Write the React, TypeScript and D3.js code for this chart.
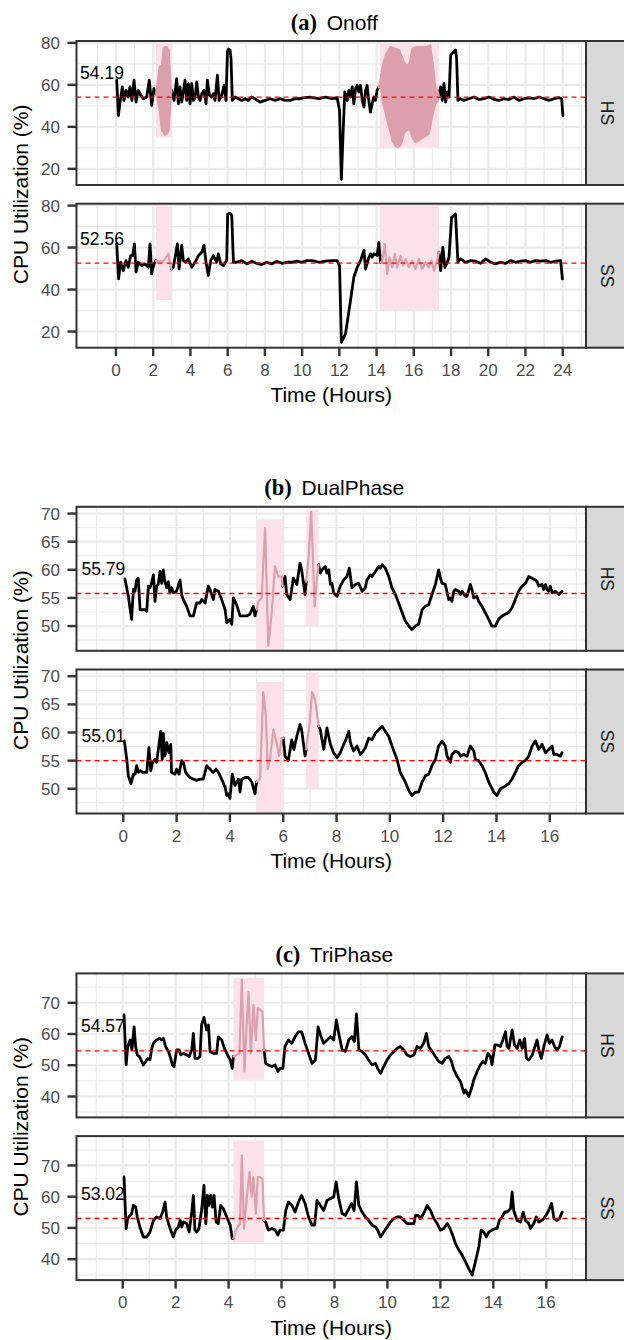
import React from 'react';
import * as d3 from 'd3';

type P = [number, number];
type Band = [number, number, number]; // time, low, high of a dense oscillation
type Region = [number, number, number, number]; // t0, t1, v0, v1

// ---------- (a) Onoff ----------
const onoffXTicks = [0, 2, 4, 6, 8, 10, 12, 14, 16, 18, 20, 22, 24];
const onoffXMinor = [-1, 1, 3, 5, 7, 9, 11, 13, 15, 17, 19, 21, 23, 25];
const onoffYTicks = [20, 40, 60, 80];
const onoffYMinor = [30, 50, 70];
const onoffRegions: Region[] = [[2.15, 3.0, 35, 79.8], [14.18, 17.35, 30.2, 79.8]];
const onoffMeans = [54.19, 52.56];

const onoffHS: P[] = [
  [0.04,62.2],[0.13,45.4],[0.22,51.8],[0.34,59.0],[0.43,52.6],[0.54,57.4],[0.66,54.2],[0.75,59.0],[0.86,52.6],[0.97,62.2],[1.08,51.8],[1.20,57.4],[1.33,55.0],[1.47,53.4],[1.65,54.2],[1.79,62.2],[1.92,50.2],[2.04,58.2],[2.15,55.8],
  [2.99,57.4],[3.12,52.6],[3.26,63.0],[3.35,51.0],[3.44,59.0],[3.53,51.8],[3.62,56.6],[3.71,62.2],[3.80,52.6],[3.89,60.6],[3.98,51.0],[4.07,60.6],[4.16,52.6],[4.25,54.2],[4.34,61.4],[4.43,54.2],[4.52,52.6],[4.61,55.8],[4.73,57.4],[4.84,51.0],[4.91,62.2],[5.02,55.0],[5.14,54.2],[5.23,55.8],[5.32,52.6],[5.45,64.6],[5.54,52.6],[5.68,55.0],[5.81,59.8],[5.91,52.6],[5.99,75.8],[6.04,77.0],[6.13,76.6],[6.18,72.6],[6.25,52.6],
  [6.40,54.2],[6.58,53.4],[6.76,52.6],[6.94,53.4],[7.11,52.6],[7.29,54.2],[7.47,53.4],[7.74,51.8],[8.01,52.6],[8.28,53.4],[8.55,52.6],[8.82,53.4],[9.09,52.6],[9.35,52.6],[9.62,53.4],[9.89,53.4],[10.16,53.9],[10.43,54.2],
  [10.90,53.4],[11.25,54.2],[11.61,53.4],[11.88,53.9],[12.01,47.8],[12.11,15.0],[12.20,36.6],[12.29,56.6],[12.42,52.6],[12.51,57.4],[12.60,54.2],[12.69,59.0],[12.78,51.0],[12.87,58.2],[12.96,59.8],[13.05,56.6],[13.14,59.8],[13.23,52.6],[13.32,49.4],[13.41,57.4],[13.49,59.8],[13.58,52.6],[13.67,47.0],[13.76,51.0],[13.85,54.2],[13.94,52.6],[14.03,57.4],[14.12,59.0],
  [17.35,55.0],[17.44,59.0],[17.53,52.6],[17.62,60.6],[17.71,51.8],[17.80,56.6],[17.89,54.2],[17.98,74.2],[18.06,75.0],[18.15,75.8],[18.24,76.6],[18.30,72.6],[18.37,52.6],[18.51,53.4],[18.69,52.6],[18.96,53.4],[19.23,54.2],[19.50,53.0],[19.77,53.4],[20.04,54.2],[20.30,53.1],[20.57,52.6],[20.84,53.4],[21.11,53.0],[21.38,54.2],[21.65,52.6],[21.92,53.4],[22.19,53.8],[22.46,53.4],[22.72,54.2],[22.99,53.4],[23.26,52.6],[23.53,53.4],[23.80,53.9],[23.94,53.4],[24.01,45.4],
];
// envelope of the densely oscillating highlighted stretches in Onoff / HS
const onoffHSBand1: Band[] = [
  [2.15,55.0,57.0],[2.19,54.2,59.0],[2.33,47.8,68.6],[2.46,38.2,69.4],[2.54,37.4,77.4],[2.63,36.0,78.2],[2.72,36.6,78.2],[2.85,38.2,76.6],[2.94,52.6,60.6],[2.99,57.0,57.8],
];
const onoffHSBand2: Band[] = [
  [14.12,58.6,59.4],[14.21,59.0,63.0],[14.30,52.6,68.6],[14.48,46.2,74.2],[14.66,39.8,77.0],[14.75,37.0,78.2],[14.84,33.4,78.0],[15.02,30.6,77.4],[15.11,30.2,77.0],[15.23,30.6,76.6],[15.29,31.0,75.0],[15.41,34.0,72.6],[15.47,36.6,71.0],[15.59,38.0,69.4],[15.74,39.0,70.0],[15.80,38.0,72.0],[15.91,35.0,77.4],[16.09,32.6,78.0],[16.18,33.0,78.2],[16.27,33.4,78.2],[16.45,34.5,78.2],[16.54,35.0,78.2],[16.72,36.0,78.2],[16.81,36.6,78.6],[16.90,40.0,79.0],[16.99,44.6,72.0],[17.03,46.0,70.2],[17.17,51.0,59.0],[17.31,52.6,56.6],[17.35,54.6,55.4],
];
const onoffSS: P[] = [
  [0.04,61.7],[0.14,45.1],[0.25,53.0],[0.39,49.0],[0.54,53.8],[0.66,50.6],[0.79,56.2],[0.90,56.2],[0.99,61.7],[1.08,48.3],[1.20,53.0],[1.38,51.4],[1.56,52.2],[1.74,50.6],[1.83,61.7],[1.92,47.5],[2.04,52.2],[2.15,53.8],
  [2.19,53.0],[2.37,53.8],[2.49,53.0],[2.63,54.6],[2.81,57.0],[2.94,50.6],[2.99,49.8],
  [3.08,50.6],[3.30,61.7],[3.39,49.8],[3.53,61.0],[3.62,53.8],[3.76,53.0],[3.89,54.6],[4.07,50.6],[4.25,53.0],[4.43,56.2],[4.61,57.8],[4.73,61.0],[4.84,53.0],[4.96,46.7],[5.09,53.8],[5.23,56.2],[5.41,53.0],[5.50,57.0],[5.63,52.2],[5.77,51.4],[5.95,53.8],[6.00,76.0],[6.13,76.3],[6.22,75.2],[6.31,53.0],
  [6.49,53.0],[6.76,53.8],[7.03,52.2],[7.29,53.5],[7.56,52.5],[7.83,51.9],[8.10,53.0],[8.37,52.2],[8.64,53.5],[8.91,52.5],[9.18,53.0],[9.44,53.0],[9.71,53.5],[9.98,53.0],[10.25,53.8],
  [10.54,53.8],[10.90,53.0],[11.25,53.5],[11.61,53.8],[11.88,53.8],[12.01,51.4],[12.11,14.9],[12.33,18.9],[12.60,34.8],[12.78,45.9],[12.96,50.6],[13.14,53.8],[13.32,58.6],[13.41,49.8],[13.59,55.4],[13.68,57.0],[13.76,55.4],[13.85,57.0],[14.03,56.2],[14.12,62.5],
  [14.21,53.0],[14.30,53.0],[14.44,61.7],[14.57,47.5],[14.70,55.4],[14.84,50.6],[14.98,57.0],[15.11,50.6],[15.29,56.2],[15.41,51.4],[15.56,54.6],[15.74,50.6],[15.91,53.8],[16.09,49.8],[16.27,54.6],[16.45,49.8],[16.63,53.0],[16.81,50.6],[16.95,53.8],[17.08,49.0],[17.26,53.8],[17.35,57.8],
  [17.44,49.0],[17.56,60.2],[17.67,50.6],[17.80,53.0],[17.89,55.4],[18.03,74.4],[18.15,75.2],[18.24,76.0],[18.37,53.0],[18.51,54.6],[18.78,53.0],[19.05,53.8],[19.32,53.5],[19.59,52.5],[19.86,54.6],[20.13,53.0],[20.39,52.2],[20.66,53.0],[20.93,52.5],[21.20,53.8],[21.47,53.0],[21.73,53.5],[22.00,53.8],[22.27,53.0],[22.54,53.8],[22.81,53.5],[23.08,53.8],[23.35,53.0],[23.62,53.5],[23.89,53.8],[23.98,45.1],
];

// ---------- (b) DualPhase ----------
const dualXTicks = [0, 2, 4, 6, 8, 10, 12, 14, 16];
const dualXMinor = [-1, 1, 3, 5, 7, 9, 11, 13, 15, 17];
const dualYTicks = [50, 55, 60, 65, 70];
const dualYMinor = [47.5, 52.5, 57.5, 62.5, 67.5];
const dualRegions: Region[] = [[5.0, 5.98, 45.0, 69.0], [6.86, 7.33, 50.0, 70.7]];
const dualMeans = [55.79, 55.01];

const dualHS: P[] = [
  [0.06,58.4],[0.19,55.3],[0.31,51.2],[0.38,56.5],[0.44,56.2],[0.50,58.2],[0.56,58.5],[0.63,52.9],[0.69,52.9],[0.81,52.9],[0.88,52.6],[0.94,57.1],[1.00,56.8],[1.06,57.6],[1.13,59.1],[1.19,54.4],[1.25,57.1],[1.31,57.4],[1.38,59.7],[1.44,57.6],[1.50,60.0],[1.56,57.9],[1.63,56.8],[1.69,57.9],[1.75,55.9],[1.81,56.8],[1.88,55.9],[2.00,56.2],[2.13,58.2],[2.19,55.6],[2.25,54.7],[2.38,53.5],[2.50,51.8],[2.63,51.8],[2.75,54.1],[2.88,54.1],[2.94,54.7],[3.07,54.1],[3.19,57.1],[3.25,56.5],[3.38,54.7],[3.44,56.5],[3.57,56.2],[3.69,54.7],[3.82,52.9],[3.88,50.6],[4.00,51.2],[4.07,50.3],[4.13,55.0],[4.25,53.8],[4.38,51.8],[4.50,51.8],[4.63,51.8],[4.75,52.1],[4.88,53.5],[4.94,51.8],
  [5.00,52.9],[5.07,54.4],[5.19,55.0],[5.32,67.4],[5.44,46.5],[5.57,52.4],[5.69,60.6],[5.82,58.8],[5.94,58.8],[5.98,57.1],
  [6.00,57.6],[6.07,58.8],[6.13,55.6],[6.26,54.7],[6.38,58.5],[6.51,57.4],[6.63,61.2],[6.69,60.0],[6.82,55.6],
  [6.86,57.9],[6.95,62.0],[7.05,70.3],[7.18,53.5],[7.27,58.8],[7.33,60.9],
  [7.39,59.4],[7.46,60.0],[7.58,60.6],[7.64,59.4],[7.71,60.0],[7.77,57.4],[7.83,57.6],[7.89,55.9],[8.02,55.3],[8.14,57.1],[8.27,58.2],[8.39,58.8],[8.48,60.3],[8.58,56.8],[8.71,57.4],[8.83,57.6],[8.96,56.2],[9.08,56.8],[9.14,58.2],[9.27,59.1],[9.33,58.8],[9.46,59.7],[9.58,60.6],[9.64,60.3],[9.71,60.9],[9.83,60.3],[9.96,58.8],[10.08,56.8],[10.21,55.6],[10.33,54.1],[10.46,52.4],[10.58,50.9],[10.71,50.0],[10.83,49.4],[10.96,50.0],[11.08,50.3],[11.21,52.9],[11.33,53.5],[11.46,53.8],[11.58,55.6],[11.71,57.4],[11.83,60.0],[11.90,58.5],[11.96,57.6],[12.08,57.4],[12.21,54.7],[12.27,55.0],[12.33,54.4],[12.40,56.2],[12.46,56.5],[12.58,56.2],[12.65,55.6],[12.71,56.2],[12.83,55.3],[12.90,55.3],[13.02,57.4],[13.08,56.5],[13.15,55.0],[13.27,55.3],[13.33,54.4],[13.46,53.5],[13.58,52.4],[13.71,51.2],[13.83,50.0],[13.96,50.0],[14.08,51.2],[14.21,51.8],[14.33,52.1],[14.46,52.4],[14.58,53.2],[14.71,54.7],[14.83,56.2],[14.96,57.1],[15.09,57.6],[15.21,58.8],[15.34,58.5],[15.46,58.2],[15.52,57.9],[15.59,57.1],[15.71,57.4],[15.77,56.5],[15.84,57.4],[15.90,56.5],[15.96,56.2],[16.02,57.1],[16.09,55.9],[16.21,56.2],[16.34,55.6],[16.46,56.2],
];
const dualSS: P[] = [
  [0.04,58.5],[0.13,55.2],[0.19,52.3],[0.29,50.9],[0.38,52.6],[0.44,52.6],[0.50,54.1],[0.56,52.9],[0.63,53.2],[0.75,52.9],[0.88,52.9],[0.96,57.3],[1.03,53.2],[1.10,54.7],[1.19,55.2],[1.25,54.7],[1.34,57.9],[1.40,60.2],[1.46,55.2],[1.50,59.9],[1.56,55.8],[1.63,58.2],[1.71,56.4],[1.78,57.9],[1.81,52.9],[1.94,52.6],[2.00,53.5],[2.09,52.6],[2.19,55.0],[2.25,54.7],[2.34,52.9],[2.44,52.3],[2.50,52.0],[2.63,51.7],[2.75,51.5],[2.88,51.7],[3.00,51.7],[3.13,54.1],[3.25,53.5],[3.38,52.9],[3.48,53.5],[3.57,52.9],[3.69,51.7],[3.82,50.3],[3.88,48.8],[3.94,49.1],[4.00,48.3],[4.09,52.6],[4.19,50.6],[4.32,51.7],[4.38,49.4],[4.44,51.7],[4.57,52.0],[4.69,52.0],[4.82,51.2],[4.94,49.1],
  [5.00,51.2],[5.13,51.7],[5.25,67.2],[5.35,62.8],[5.42,53.5],[5.50,55.2],[5.63,60.5],[5.75,58.2],[5.85,55.8],[5.94,59.0],
  [6.00,59.0],[6.07,55.8],[6.19,55.0],[6.32,58.7],[6.40,57.0],[6.51,59.3],[6.63,61.4],[6.69,60.5],[6.82,55.8],
  [6.86,57.0],[7.00,62.0],[7.08,67.2],[7.20,65.7],[7.33,61.1],
  [7.39,60.5],[7.52,57.0],[7.64,60.8],[7.77,57.9],[7.89,56.4],[8.02,55.5],[8.14,56.4],[8.27,57.9],[8.33,58.5],[8.46,60.2],[8.52,58.2],[8.64,56.7],[8.77,57.6],[8.89,56.1],[8.96,56.4],[9.08,57.3],[9.21,59.0],[9.33,58.7],[9.46,59.9],[9.58,60.5],[9.71,61.1],[9.83,60.2],[9.96,59.3],[10.08,57.6],[10.27,55.2],[10.39,52.9],[10.58,51.2],[10.71,49.7],[10.83,48.8],[10.96,49.4],[11.08,49.4],[11.21,51.2],[11.33,52.3],[11.46,52.6],[11.58,54.1],[11.71,55.2],[11.83,57.6],[11.96,58.5],[12.08,57.6],[12.15,55.8],[12.27,54.7],[12.33,56.1],[12.46,56.7],[12.58,56.4],[12.65,55.8],[12.77,56.1],[12.90,55.8],[13.02,57.6],[13.15,56.7],[13.21,55.2],[13.33,55.0],[13.46,54.1],[13.58,52.9],[13.71,51.2],[13.90,49.4],[14.02,48.8],[14.15,50.0],[14.27,50.3],[14.46,50.9],[14.58,51.7],[14.71,52.9],[14.83,54.1],[14.96,54.7],[15.09,55.0],[15.21,55.8],[15.34,57.6],[15.46,58.5],[15.59,57.0],[15.71,57.9],[15.84,56.4],[15.96,57.0],[16.09,57.6],[16.15,56.1],[16.27,56.1],[16.40,55.8],[16.46,56.4],
];

// ---------- (c) TriPhase ----------
const triXTicks = [0, 2, 4, 6, 8, 10, 12, 14, 16];
const triXMinor = [-1, 1, 3, 5, 7, 9, 11, 13, 15, 17];
const triYTicks = [40, 50, 60, 70];
const triYMinor = [35, 45, 55, 65, 75];
const triRegions: Region[] = [[4.18, 5.34, 45.3, 78.0]];
const triMeans = [54.57, 53.02];

const triHS: P[] = [
  [0.05,66.1],[0.13,50.1],[0.19,56.0],[0.28,58.1],[0.35,54.9],[0.43,62.3],[0.49,56.0],[0.55,53.3],[0.63,52.8],[0.72,51.2],[0.78,50.1],[0.87,51.2],[0.94,52.2],[1.03,51.7],[1.10,55.4],[1.16,57.0],[1.28,58.1],[1.39,58.6],[1.47,58.1],[1.54,58.6],[1.62,56.0],[1.73,54.4],[1.79,52.8],[1.88,50.1],[1.94,49.6],[2.04,54.9],[2.13,54.9],[2.19,53.3],[2.29,53.8],[2.42,53.3],[2.51,52.8],[2.61,54.9],[2.67,60.2],[2.73,52.2],[2.83,52.2],[2.92,52.8],[2.98,62.9],[3.07,65.3],[3.17,61.3],[3.24,62.9],[3.30,54.4],[3.43,53.8],[3.55,53.8],[3.61,59.1],[3.74,58.1],[3.84,55.4],[3.93,53.8],[4.06,51.7],[4.14,49.0],
  [4.18,52.8],[4.31,53.3],[4.41,53.8],[4.50,77.4],[4.60,48.0],[4.69,64.5],[4.75,73.5],[4.84,53.8],[4.94,69.3],[5.03,58.1],[5.10,68.2],[5.19,67.7],[5.28,67.1],[5.34,54.9],
  [5.40,50.6],[5.50,50.1],[5.63,49.6],[5.76,50.1],[5.86,48.0],[5.94,49.0],[6.05,49.0],[6.13,56.0],[6.26,58.1],[6.39,57.0],[6.51,59.1],[6.64,60.7],[6.76,60.7],[6.89,57.0],[7.02,53.8],[7.15,50.6],[7.28,51.7],[7.38,62.3],[7.47,59.7],[7.59,57.0],[7.72,58.1],[7.85,59.1],[7.97,58.1],[8.07,64.5],[8.16,60.2],[8.29,54.9],[8.41,54.4],[8.54,58.1],[8.66,59.1],[8.75,57.6],[8.83,66.4],[8.92,54.9],[9.04,54.4],[9.17,53.3],[9.29,51.7],[9.42,50.1],[9.55,50.6],[9.63,49.0],[9.74,47.4],[9.86,49.6],[9.99,51.7],[10.11,53.3],[10.24,54.4],[10.37,55.4],[10.49,56.0],[10.62,54.9],[10.74,53.3],[10.87,52.8],[11.00,53.3],[11.12,56.0],[11.25,55.4],[11.37,57.0],[11.47,60.2],[11.56,56.0],[11.69,54.4],[11.81,52.8],[11.94,51.2],[12.07,50.6],[12.19,52.2],[12.32,52.8],[12.42,51.2],[12.51,48.5],[12.63,46.4],[12.76,44.8],[12.89,41.1],[12.95,42.1],[13.07,40.0],[13.18,42.7],[13.26,45.3],[13.39,48.0],[13.51,50.1],[13.60,51.2],[13.70,50.6],[13.79,53.8],[13.89,52.8],[13.95,50.1],[14.06,56.5],[14.14,56.5],[14.27,56.0],[14.36,58.1],[14.46,60.7],[14.52,56.0],[14.59,55.4],[14.71,61.3],[14.80,56.5],[14.90,55.4],[15.00,58.1],[15.09,55.4],[15.18,58.6],[15.25,52.2],[15.34,51.7],[15.47,53.3],[15.57,56.0],[15.65,58.1],[15.72,54.9],[15.81,52.2],[15.91,56.0],[16.03,59.7],[16.12,57.0],[16.22,58.1],[16.31,56.0],[16.41,54.9],[16.50,56.0],[16.60,59.1],
];
const triSS: P[] = [
  [0.05,66.3],[0.13,49.8],[0.19,53.0],[0.28,54.0],[0.34,54.6],[0.40,57.2],[0.49,56.7],[0.55,53.5],[0.65,50.3],[0.78,47.1],[0.91,47.1],[1.03,48.7],[1.16,52.4],[1.28,53.5],[1.41,53.0],[1.51,55.1],[1.60,58.3],[1.66,53.5],[1.79,49.8],[1.91,47.1],[2.00,49.3],[2.10,50.3],[2.17,52.4],[2.23,50.3],[2.29,51.9],[2.42,51.4],[2.51,48.7],[2.61,55.1],[2.67,60.4],[2.73,49.3],[2.80,48.7],[2.88,49.8],[2.98,55.6],[3.07,63.6],[3.14,51.4],[3.20,60.4],[3.26,57.2],[3.32,60.4],[3.39,56.7],[3.45,60.4],[3.53,51.9],[3.61,51.4],[3.70,57.2],[3.80,56.2],[3.93,53.5],[4.06,50.9],[4.14,46.6],
  [4.18,46.6],[4.31,49.8],[4.43,51.4],[4.50,73.2],[4.58,49.8],[4.69,59.9],[4.79,67.9],[4.87,59.9],[4.94,66.3],[5.03,54.6],[5.10,66.3],[5.19,66.3],[5.28,65.7],[5.34,52.4],
  [5.40,51.9],[5.50,49.3],[5.63,49.8],[5.76,49.3],[5.86,47.7],[5.94,49.3],[6.07,49.3],[6.16,55.6],[6.26,58.3],[6.39,57.2],[6.51,55.1],[6.64,58.3],[6.76,60.4],[6.89,57.8],[7.02,53.5],[7.15,50.9],[7.25,50.9],[7.34,58.8],[7.47,57.2],[7.59,55.6],[7.72,58.8],[7.85,59.4],[7.97,59.9],[8.06,64.7],[8.16,59.4],[8.29,54.6],[8.41,54.0],[8.54,56.2],[8.64,57.8],[8.74,55.6],[8.83,64.7],[8.92,57.2],[9.04,55.1],[9.17,53.5],[9.29,52.4],[9.42,50.9],[9.55,50.3],[9.63,49.3],[9.74,47.1],[9.86,48.7],[9.99,50.3],[10.11,51.9],[10.24,53.0],[10.37,53.5],[10.49,53.5],[10.62,52.4],[10.74,51.4],[10.87,51.4],[11.00,51.4],[11.06,54.0],[11.16,54.0],[11.25,53.0],[11.37,54.6],[11.50,57.2],[11.63,55.6],[11.75,53.0],[11.88,51.4],[12.00,49.3],[12.13,49.8],[12.26,51.4],[12.34,50.3],[12.44,48.2],[12.57,45.0],[12.70,42.9],[12.82,41.3],[12.95,39.1],[13.07,37.0],[13.20,34.9],[13.32,39.1],[13.45,43.9],[13.54,49.3],[13.64,48.7],[13.73,47.1],[13.83,48.7],[13.95,49.3],[14.08,49.8],[14.14,49.8],[14.23,52.4],[14.33,53.5],[14.43,55.1],[14.52,55.1],[14.65,56.2],[14.71,61.5],[14.77,55.6],[14.90,52.4],[15.03,51.9],[15.13,55.1],[15.21,52.4],[15.34,51.4],[15.40,49.8],[15.53,51.4],[15.62,53.5],[15.72,51.9],[15.82,52.4],[15.91,53.0],[16.03,54.6],[16.12,56.2],[16.20,57.8],[16.29,53.0],[16.41,52.4],[16.50,53.0],[16.60,55.1],
];

const facetLabels = ['HS', 'SS'];

interface PanelSpec { label: string; data: P[]; mean: number; bands?: Band[][] }
interface GroupSpec {
  tag: string; name: string;
  xDomain: [number, number]; xTicks: number[]; xMinor: number[];
  yDomain: [number, number]; yTicks: number[]; yMinor: number[];
  regions: Region[]; panels: PanelSpec[];
}

const groups: GroupSpec[] = [
  {
    tag: '(a)', name: 'Onoff', xDomain: [-2.12, 25.25], xTicks: onoffXTicks, xMinor: onoffXMinor,
    yDomain: [12.3, 80.9], yTicks: onoffYTicks, yMinor: onoffYMinor, regions: onoffRegions,
    panels: [
      { label: facetLabels[0], data: onoffHS, mean: onoffMeans[0], bands: [onoffHSBand1, onoffHSBand2] },
      { label: facetLabels[1], data: onoffSS, mean: onoffMeans[1] },
    ],
  },
  {
    tag: '(b)', name: 'DualPhase', xDomain: [-1.756, 17.36], xTicks: dualXTicks, xMinor: dualXMinor,
    yDomain: [45.6, 71.2], yTicks: dualYTicks, yMinor: dualYMinor, regions: dualRegions,
    panels: [
      { label: facetLabels[0], data: dualHS, mean: dualMeans[0] },
      { label: facetLabels[1], data: dualSS, mean: dualMeans[1] },
    ],
  },
  {
    tag: '(c)', name: 'TriPhase', xDomain: [-1.745, 17.5], xTicks: triXTicks, xMinor: triXMinor,
    yDomain: [33.3, 79.4], yTicks: triYTicks, yMinor: triYMinor, regions: triRegions,
    panels: [
      { label: facetLabels[0], data: triHS, mean: triMeans[0] },
      { label: facetLabels[1], data: triSS, mean: triMeans[1] },
    ],
  },
];

const SANS = "'Liberation Sans', Arial, Helvetica, sans-serif";
const SERIF = "'Liberation Serif', 'Times New Roman', serif";
const GRID = '#EBEBEB';
const BORDER = '#333333';
const HILITE_FILL = '#FCE1EB';
const HILITE_LINE = '#DBA0AB';

function colorRuns(data: P[], regions: Region[]) {
  const inReg = (t: number) => regions.some((r) => t >= r[0] && t <= r[1]);
  const runs: { hi: boolean; pts: P[] }[] = [];
  for (let i = 0; i < data.length - 1; i++) {
    const hi = inReg((data[i][0] + data[i + 1][0]) / 2);
    const last = runs[runs.length - 1];
    if (last && last.hi === hi) last.pts.push(data[i + 1]);
    else runs.push({ hi, pts: [data[i], data[i + 1]] });
  }
  return runs;
}

export default function App() {
  const W = 624, H = 1340;
  const L = 76.5, R = 586, PH = 144, GAP = 18.7, STRIP = 44;
  const tops = [41, 506.8, 973.4];

  return (
    <svg width={W} height={H} viewBox={`0 0 ${W} ${H}`}
      style={{ position: 'absolute', left: 0, top: 0, background: '#fff' }}>
      <rect x={0} y={0} width={W} height={H} fill="#fff" />
      {groups.map((g, gi) => {
        const top = tops[gi];
        const x = d3.scaleLinear().domain(g.xDomain).range([L, R]);
        const panelTops = g.panels.map((_, pi) => top + pi * (PH + GAP));
        const bottom = panelTops[panelTops.length - 1] + PH;
        const cx = (L + R) / 2;
        return (
          <g key={gi}>
            <text x={cx + 3} y={top - 11.5} textAnchor="middle" fill="#000">
              <tspan fontFamily={SERIF} fontWeight="bold" fontSize={22.5}>{g.tag}</tspan>
              <tspan fontFamily={SANS} fontSize={21} dx={4}>{' ' + g.name}</tspan>
            </text>
            {g.panels.map((p, pi) => {
              const y0 = panelTops[pi];
              const y = d3.scaleLinear().domain(g.yDomain).range([y0 + PH, y0]);
              const clipId = `clip-${gi}-${pi}`;
              const line = d3.line<P>().x((d) => x(d[0])).y((d) => y(d[1]));
              const area = d3.area<Band>().x((d) => x(d[0])).y0((d) => y(d[1])).y1((d) => y(d[2]));
              const runs = colorRuns(p.data, g.regions);
              return (
                <g key={pi}>
                  <defs>
                    <clipPath id={clipId}>
                      <rect x={L} y={y0} width={R - L} height={PH} />
                    </clipPath>
                  </defs>
                  <rect x={L} y={y0} width={R - L} height={PH} fill="#fff" />
                  <g clipPath={`url(#${clipId})`}>
                    {g.yMinor.map((v) => (
                      <line key={'ym' + v} x1={L} x2={R} y1={y(v)} y2={y(v)} stroke={GRID} strokeWidth={1.2} />
                    ))}
                    {g.xMinor.map((v) => (
                      <line key={'xm' + v} y1={y0} y2={y0 + PH} x1={x(v)} x2={x(v)} stroke={GRID} strokeWidth={1.2} />
                    ))}
                    {g.yTicks.map((v) => (
                      <line key={'yM' + v} x1={L} x2={R} y1={y(v)} y2={y(v)} stroke={GRID} strokeWidth={2.2} />
                    ))}
                    {g.xTicks.map((v) => (
                      <line key={'xM' + v} y1={y0} y2={y0 + PH} x1={x(v)} x2={x(v)} stroke={GRID} strokeWidth={2.2} />
                    ))}
                    {g.regions.map((r, ri) => (
                      <rect key={'r' + ri} x={x(r[0])} width={x(r[1]) - x(r[0])}
                        y={y(r[3])} height={y(r[2]) - y(r[3])} fill={HILITE_FILL} />
                    ))}
                    {runs.filter((r) => !r.hi).map((r, ri) => (
                      <path key={'b' + ri} d={line(r.pts) || ''} fill="none" stroke="#000"
                        strokeWidth={2.8} strokeLinejoin="round" strokeLinecap="round" />
                    ))}
                    {p.bands
                      ? p.bands.map((b, bi) => (
                          <path key={'band' + bi} d={area(b) || ''} fill={HILITE_LINE}
                            stroke={HILITE_LINE} strokeWidth={1.5} strokeLinejoin="round" />
                        ))
                      : runs.filter((r) => r.hi).map((r, ri) => (
                          <path key={'h' + ri} d={line(r.pts) || ''} fill="none" stroke={HILITE_LINE}
                            strokeWidth={2.2} strokeLinejoin="round" strokeLinecap="round" />
                        ))}
                    <line x1={L} x2={R} y1={y(p.mean)} y2={y(p.mean)} stroke="#FF0000"
                      strokeWidth={1.3} strokeDasharray="5,4" />
                  </g>
                  <text x={x(-0.75)} y={y(p.mean) - 18.5} textAnchor="middle" fontFamily={SANS}
                    fontSize={17.5} fill="#000">{p.mean.toFixed(2)}</text>
                  <rect x={L} y={y0} width={R - L} height={PH} fill="none" stroke={BORDER} strokeWidth={2} />
                  {/* strip */}
                  <rect x={R} y={y0} width={STRIP} height={PH} fill="#D9D9D9" stroke={BORDER} strokeWidth={2} />
                  <text transform={`translate(${R + 21},${y0 + PH / 2}) rotate(90)`} textAnchor="middle"
                    dy="0.36em" fontFamily={SANS} fontSize={17.5} fill="#1A1A1A">{p.label}</text>
                  {/* y axis */}
                  {g.yTicks.map((v) => (
                    <g key={'yt' + v}>
                      <line x1={L - 9} x2={L} y1={y(v)} y2={y(v)} stroke={BORDER} strokeWidth={2.4} />
                      <text x={L - 16.5} y={y(v)} dy="0.36em" textAnchor="end" fontFamily={SANS}
                        fontSize={17} fill="#4D4D4D">{v}</text>
                    </g>
                  ))}
                </g>
              );
            })}
            {/* x axis */}
            {g.xTicks.map((v) => (
              <g key={'xt' + v}>
                <line x1={x(v)} x2={x(v)} y1={bottom} y2={bottom + 8.5} stroke={BORDER} strokeWidth={2.4} />
                <text x={x(v)} y={bottom + 28.3} textAnchor="middle" fontFamily={SANS} fontSize={17}
                  fill="#4D4D4D">{v}</text>
              </g>
            ))}
            <text x={cx} y={bottom + 54.5} textAnchor="middle" fontFamily={SANS} fontSize={21}
              fill="#000">Time (Hours)</text>
            <text transform={`translate(28,${(top + bottom) / 2}) rotate(-90)`} textAnchor="middle"
              fontFamily={SANS} fontSize={21} fill="#000">CPU Utilization (%)</text>
          </g>
        );
      })}
    </svg>
  );
}
